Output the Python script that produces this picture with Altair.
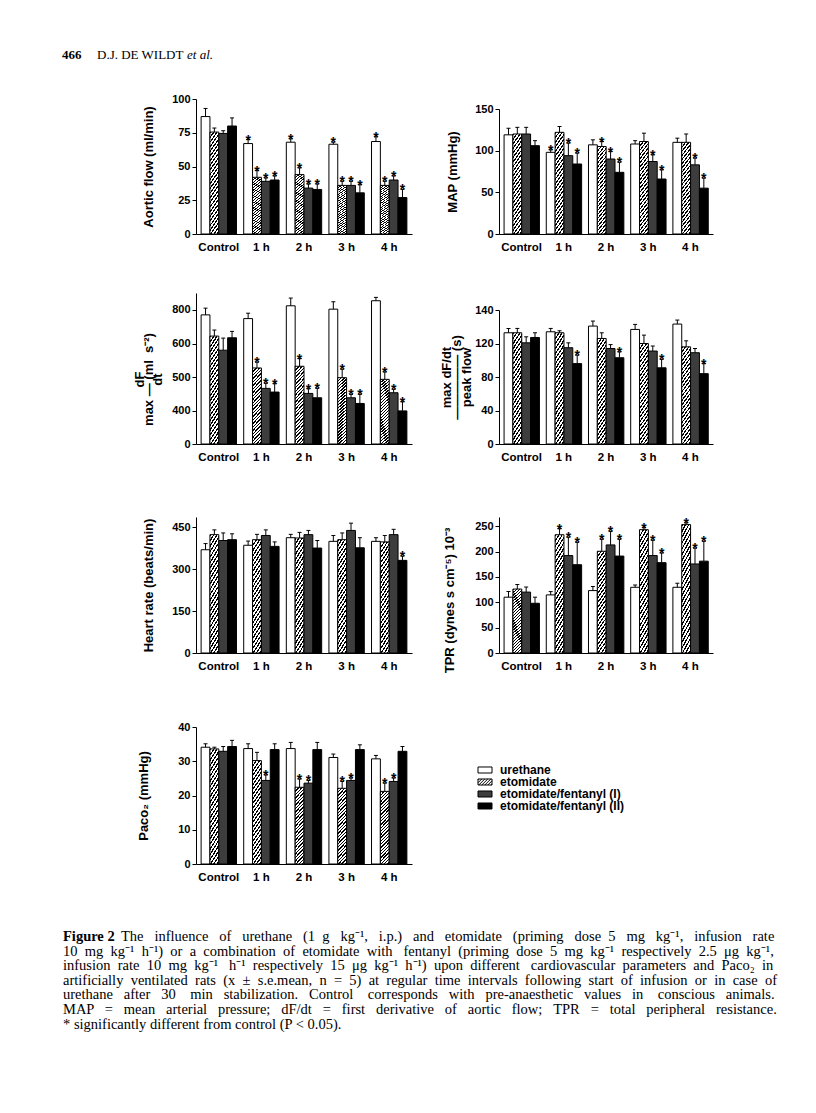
import altair as alt
import pandas as pd

# ---------------------------------------------------------------- data
times = ["Control", "1 h", "2 h", "3 h", "4 h"]
series = ["urethane", "etomidate", "etomidate/fentanyl (I)", "etomidate/fentanyl (II)"]

# Aortic flow (ml/min): means, tops of s.e.m. bars, significance flags
flow_ure = [87, 67, 68, 66.5, 68.5]
flow_eto = [75.5, 42, 44, 36, 36]
flow_f1 = [74.5, 39, 34, 36, 40]
flow_f2 = [80, 40, 33, 30.5, 27]
flow_ure_top = [93, 70, 70.5, 68, 72]
flow_eto_top = [78.5, 47, 49, 39, 39]
flow_f1_top = [76.5, 41.5, 37, 39, 43]
flow_f2_top = [86, 43, 37, 36.5, 33]
flow_sig = [[0, 1, 1, 1, 1], [0, 1, 1, 1, 1], [0, 1, 1, 1, 1], [0, 1, 1, 1, 1]]

# MAP (mmHg)
map_ure = [119, 98, 107, 108, 110]
map_eto = [120, 122, 105, 111, 110]
map_f1 = [120, 94, 90, 87, 83]
map_f2 = [106, 84, 74, 66, 55]
map_ure_top = [127, 101, 113, 112, 115]
map_eto_top = [128, 129, 111, 121, 120]
map_f1_top = [128, 109, 99, 95, 91]
map_f2_top = [112, 97, 86, 77, 67]
map_sig = [[0, 1, 0, 0, 0], [0, 0, 1, 0, 0], [0, 1, 1, 1, 1], [0, 1, 1, 1, 1]]

# max dF/dt (ml s-2)
dfdt_ure = [770, 748, 824, 804, 854]
dfdt_eto = [644, 527, 532, 498, 493]
dfdt_f1 = [580, 466, 451, 438, 453]
dfdt_f2 = [634, 455, 438, 421, 395]
dfdt_ure_top = [810, 780, 870, 848, 874]
dfdt_eto_top = [680, 544, 555, 523, 515]
dfdt_f1_top = [632, 481, 465, 448, 463]
dfdt_f2_top = [672, 480, 466, 448, 426]
dfdt_sig = [[0, 0, 0, 0, 0], [0, 1, 1, 1, 1], [0, 1, 1, 1, 1], [0, 1, 1, 1, 1]]

# max dF/dt / peak flow (s)
ratio_ure = [126.4, 127, 130.4, 128.4, 131.6]
ratio_eto = [126.4, 126.4, 123, 120, 116]
ratio_f1 = [120.4, 115, 114, 111, 109]
ratio_f2 = [123.6, 96, 103, 91, 84]
ratio_ure_top = [129, 129, 133.4, 131.4, 134]
ratio_eto_top = [129, 127.6, 126.4, 125, 121.6]
ratio_f1_top = [124, 120.4, 118.7, 117, 114]
ratio_f2_top = [126.4, 106, 110, 101, 96]
ratio_sig = [[0, 0, 0, 0, 0], [0, 0, 0, 0, 0], [0, 0, 0, 0, 0], [0, 1, 1, 1, 1]]

# Heart rate (beats/min)
hr_ure = [369, 385, 412, 399, 399]
hr_eto = [423, 405, 411, 405, 397]
hr_f1 = [402, 420, 423, 438, 423]
hr_f2 = [405, 381, 375, 376, 331]
hr_ure_top = [391, 400, 424, 420, 412]
hr_eto_top = [440, 424, 431, 429, 420]
hr_f1_top = [429, 440, 438, 464, 442]
hr_f2_top = [426, 397, 402, 412, 346]
hr_sig = [[0, 0, 0, 0, 0], [0, 0, 0, 0, 0], [0, 0, 0, 0, 0], [0, 0, 0, 0, 1]]

# TPR (dynes s cm-5) 10-3
tpr_ure = [110, 114.5, 123, 129.5, 129.5]
tpr_eto = [126, 233, 200.5, 243, 253]
tpr_f1 = [120, 192, 213, 192, 175.5]
tpr_f2 = [98, 174, 191, 178, 181]
tpr_ure_top = [121, 121, 131, 134, 137.5]
tpr_eto_top = [135, 245, 224, 247, 256.5]
tpr_f1_top = [130, 228, 239.5, 222, 206.5]
tpr_f2_top = [110, 218, 224, 197, 220]
tpr_sig = [[0, 0, 0, 0, 0], [0, 1, 1, 1, 1], [0, 1, 1, 1, 1], [0, 1, 1, 1, 1]]

# PaCO2 (mmHg)
pco2_ure = [34.1, 33.7, 33.7, 31.1, 30.7]
pco2_eto = [33.6, 30.2, 22.4, 22.1, 21.2]
pco2_f1 = [32.9, 24.4, 23.6, 24.4, 24.1]
pco2_f2 = [34.3, 33.4, 33.4, 33.4, 32.9]
pco2_ure_top = [35.1, 35.1, 35.5, 32.1, 31.7]
pco2_eto_top = [34.1, 32.6, 24.8, 24.1, 23.6]
pco2_f1_top = [34.3, 26, 24.4, 25.1, 25.1]
pco2_f2_top = [36.1, 35.1, 35.5, 34.8, 34.3]
pco2_sig = [[0, 0, 0, 0, 0], [0, 0, 1, 1, 1], [0, 1, 1, 1, 1], [0, 0, 0, 0, 0]]

header_parts = ["466", "D.J. DE WILDT", "et al."]
caption_bold = "Figure 2"
caption_lines = [
    "The influence of urethane (1 g kg\u207b\u00b9, i.p.) and etomidate (priming dose 5 mg kg\u207b\u00b9, infusion rate",
    "10 mg kg\u207b\u00b9 h\u207b\u00b9) or a combination of etomidate with fentanyl (priming dose 5 mg kg\u207b\u00b9 respectively 2.5 \u03bcg kg\u207b\u00b9,",
    "infusion rate 10 mg kg\u207b\u00b9 h\u207b\u00b9 respectively 15 \u03bcg kg\u207b\u00b9 h\u207b\u00b9) upon different cardiovascular parameters and Paco\u2082 in",
    "artificially ventilated rats (x \u00b1 s.e.mean, n = 5) at regular time intervals following start of infusion or in case of",
    "urethane after 30 min stabilization. Control corresponds with pre-anaesthetic values in conscious animals.",
    "MAP = mean arterial pressure; dF/dt = first derivative of aortic flow; TPR = total peripheral resistance.",
    "* significantly different from control (P < 0.05).",
]


def table(means, tops, sigs):
    rows = []
    for s, m, t, g in zip(series, means, tops, sigs):
        for tm, mv, tv, gv in zip(times, m, t, g):
            rows.append({"time": tm, "series": s, "mean": mv, "up": tv, "sig": gv})
    return pd.DataFrame(rows)


# ---------------------------------------------------------------- text justification (Times metrics)
_W = {" ": 250, "!": 333, "(": 333, ")": 333, "*": 500, "+": 564, ",": 250, "-": 333, ".": 250,
      "/": 278, ":": 278, ";": 278, "<": 564, "=": 564, ">": 564, "?": 444,
      "\u00b1": 564, "\u03bc": 500, "\u207b": 400, "\u00b9": 300, "\u00b2": 300, "\u2082": 300}
_W.update({d: 500 for d in "0123456789"})
_W.update(dict(zip("ABCDEFGHIJKLMNOPQRSTUVWXYZ",
                   [722, 667, 667, 722, 611, 556, 722, 722, 333, 389, 722, 611, 889, 722, 722, 556,
                    722, 667, 556, 611, 722, 722, 944, 722, 722, 611])))
_W.update(dict(zip("abcdefghijklmnopqrstuvwxyz",
                   [444, 500, 444, 500, 444, 333, 500, 500, 278, 278, 500, 278, 778, 500, 500, 500,
                    500, 333, 389, 278, 500, 500, 722, 500, 500, 444])))


def justify(line, target_px, size):
    natural = sum(_W.get(c, 500) for c in line) * size / 1000.0
    words = line.split(" ")
    gaps = len(words) - 1
    nb = 250 * size / 1000.0
    extra = max(0, int(round((target_px - natural) / nb)))
    out = words[0]
    acc = 0
    for i in range(gaps):
        want = int(round(extra * (i + 1) / gaps))
        k = want - acc
        acc = want
        out += " " + "\u00a0" * k + words[i + 1]
    return out


# ---------------------------------------------------------------- styles
def hatch_gradient(a=8.0, bar_px=8.8, period_px=3.2, duty=0.42):
    dt = (period_px / bar_px) / (1 + a * a)
    tmax = (1 + a) / (1 + a * a)
    stops = []
    k = 0
    while k * dt < tmax + dt:
        t0, t1, t2 = k * dt, k * dt + duty * dt, (k + 1) * dt
        c0, c1, c2 = (round(min(v, 1.0), 5) for v in (t0, t1, t2))
        stops += [{"offset": c0, "color": "black"}, {"offset": c1, "color": "black"},
                  {"offset": c1, "color": "white"}, {"offset": c2, "color": "white"}]
        k += 1
    return {"gradient": "linear", "x1": 0, "y1": 0, "x2": 1, "y2": a, "stops": stops}


HATCH = hatch_gradient()
FILLS = ["white", "white", "#3d3d3d", "black"]
NB = "\u00a0"

fill_enc = alt.condition(
    "datum.series === 'etomidate'",
    alt.value(HATCH),
    alt.Fill("series:N", scale=alt.Scale(domain=series, range=FILLS), legend=None),
)


def panel(df, title, ydomain, yrange, yvalues, H, W, title_x, title_y=None, line_h=None):
    x = alt.X("time:N", sort=times,
              scale=alt.Scale(paddingInner=0.17, paddingOuter=0.12),
              axis=alt.Axis(title=None, labelAngle=0, ticks=False, tickSize=0, labelPadding=7,
                            labelFontSize=11.5, labelFontWeight="bold", domainColor="black"))
    xo = alt.XOffset("series:N", sort=series, scale=alt.Scale(paddingInner=0, paddingOuter=0))
    ysc = alt.Scale(domain=ydomain, range=yrange, nice=False, zero=False)
    ak = dict(values=yvalues, title=title, titleX=title_x, titleBaseline="middle",
              titleFontSize=13, titleFontWeight="bold", labelFontSize=11, labelFontWeight="bold",
              tickSize=4, labelPadding=2, labelFlush=False, labelOverlap=False, grid=False)
    if title_y is not None:
        ak["titleY"] = title_y
    if line_h is not None:
        ak["titleLineHeight"] = line_h
    axis = alt.Axis(**ak)
    base = alt.Chart(df)
    bars = base.mark_bar(stroke="black", strokeWidth=1).encode(
        x=x, xOffset=xo, y=alt.Y("mean:Q", scale=ysc, axis=axis), fill=fill_enc)
    whisk = base.mark_rule(color="black", strokeWidth=1).encode(
        x=x, xOffset=xo, y=alt.Y("mean:Q", scale=ysc, axis=axis), y2="up:Q")
    cap = base.mark_tick(color="black", size=4, thickness=1, orient="horizontal", opacity=1).encode(
        x=x, xOffset=xo, y=alt.Y("up:Q", scale=ysc, axis=axis))
    stars = base.transform_filter("datum.sig == 1").mark_text(
        text="*", font="Liberation Sans", fontWeight="bold", fontSize=14,
        baseline="alphabetic", dy=5, color="black").encode(
        x=x, xOffset=xo, y=alt.Y("up:Q", scale=ysc, axis=axis))
    return alt.layer(bars, whisk, cap, stars).properties(width=W, height=H)


WL, WR = 216, 214
H0, H1, H2, H3, H4, H5 = 24, 135, 190, 189, 191, 150

p1 = panel(table([flow_ure, flow_eto, flow_f1, flow_f2],
                 [flow_ure_top, flow_eto_top, flow_f1_top, flow_f2_top], flow_sig),
           "Aortic flow (ml/min)", [0, 100], [H1, 0], [0, 25, 50, 75, 100], H1, WL, -48)
p2 = panel(table([map_ure, map_eto, map_f1, map_f2],
                 [map_ure_top, map_eto_top, map_f1_top, map_f2_top], map_sig),
           "MAP (mmHg)", [0, 150], [H1, 10], [0, 50, 100, 150], H1, WR, -47)
p3 = panel(table([dfdt_ure, dfdt_eto, dfdt_f1, dfdt_f2],
                 [dfdt_ure_top, dfdt_eto_top, dfdt_f1_top, dfdt_f2_top], dfdt_sig),
           ["dF" + NB * 6, "max \u2014 (ml" + NB + " s\u207b\u00b2)", "dt" + NB * 6],
           [0, 400, 500, 600, 900], [H2, H2 - 33.5, H2 - 67, H2 - 100.5, H2 - 151],
           [0, 400, 500, 600, 800], H2, WL, -57, title_y=125, line_h=9)
p4 = panel(table([ratio_ure, ratio_eto, ratio_f1, ratio_f2],
                 [ratio_ure_top, ratio_eto_top, ratio_f1_top, ratio_f2_top], ratio_sig),
           ["max dF/dt" + NB * 6, "\u2014" * 5 + " (s)", "peak flow" + NB * 6],
           [0, 120, 140], [H2, H2 - 100.5, H2 - 134], [0, 40, 80, 120, 140], H2, WR, -53, line_h=10)
p5 = panel(table([hr_ure, hr_eto, hr_f1, hr_f2],
                 [hr_ure_top, hr_eto_top, hr_f1_top, hr_f2_top], hr_sig),
           "Heart rate (beats/min)", [0, 486], [H3, 53], [0, 150, 300, 450], H3, WL, -48)
p6 = panel(table([tpr_ure, tpr_eto, tpr_f1, tpr_f2],
                 [tpr_ure_top, tpr_eto_top, tpr_f1_top, tpr_f2_top], tpr_sig),
           "TPR (dynes s cm\u207b\u2075) 10\u207b\u00b3", [0, 268], [H3, 53],
           [0, 50, 100, 150, 200, 250], H3, WR, -50, title_y=136)
p7 = panel(table([pco2_ure, pco2_eto, pco2_f1, pco2_f2],
                 [pco2_ure_top, pco2_eto_top, pco2_f1_top, pco2_f2_top], pco2_sig),
           "Paco\u2082 (mmHg)", [0, 40], [H4, 54], [0, 10, 20, 30, 40], H4, WL, -53)


# ---------------------------------------------------------------- legend
def legend_hatch_path():
    p = "M-1,-0.43H1V0.43H-1Z"
    b = -1.75
    while b < 1.0:
        s0 = max(0.0, (-1 - b) / 0.86)
        s1 = min(1.0, (1 - b) / 0.86)
        if s1 > s0:
            p += "M{:.3f},{:.3f}L{:.3f},{:.3f}".format(b + 0.86 * s0, 0.43 - 0.86 * s0,
                                                      b + 0.86 * s1, 0.43 - 0.86 * s1)
        b += 0.43
    return p


RECT = "M-1,-0.43H1V0.43H-1Z"
leg_df = pd.DataFrame({"series": series})
ly = alt.Y("series:N", sort=series,
           scale=alt.Scale(type="point", domain=series, range=[97, 133], padding=0), axis=None)
leg_sw = alt.Chart(leg_df).mark_point(filled=True, stroke="black", strokeWidth=1, size=196,
                                      opacity=1, fillOpacity=1, strokeOpacity=1).encode(
    x=alt.value(-14), y=ly,
    shape=alt.Shape("series:N", scale=alt.Scale(domain=series,
                    range=[RECT, legend_hatch_path(), RECT, RECT]), legend=None),
    fill=alt.Fill("series:N", scale=alt.Scale(domain=series, range=FILLS), legend=None))
leg_tx = alt.Chart(leg_df).mark_text(align="left", baseline="middle", font="Liberation Sans",
                                     fontWeight="bold", fontSize=12, color="black").encode(
    x=alt.value(1), y=ly, text="series:N")
legend = alt.layer(leg_sw, leg_tx).properties(width=WR, height=H4)

# ---------------------------------------------------------------- header & caption
hdr_style = dict(font="Liberation Serif", fontSize=13, baseline="middle", align="left", color="black")
hdr = alt.layer(
    alt.Chart(pd.DataFrame({"t": [header_parts[0]]})).mark_text(fontWeight="bold", **hdr_style).encode(
        x=alt.value(-134), y=alt.value(0), text="t:N"),
    alt.Chart(pd.DataFrame({"t": [header_parts[1]]})).mark_text(**hdr_style).encode(
        x=alt.value(-99), y=alt.value(0), text="t:N"),
    alt.Chart(pd.DataFrame({"t": [header_parts[2]]})).mark_text(fontStyle="italic", **hdr_style).encode(
        x=alt.value(-9), y=alt.value(0), text="t:N"),
).properties(width=WL, height=H0)

blank = alt.Chart(pd.DataFrame({"t": [""]})).mark_text(color="white").encode(
    x=alt.value(0), y=alt.value(0), text="t:N").properties(width=WR, height=H0)

CAP_SIZE = 14.5
CAP_W = 713
CAP_DX = 58
cap_text = [justify(caption_lines[0], CAP_W - CAP_DX, CAP_SIZE)] + \
           [justify(s, CAP_W, CAP_SIZE) for s in caption_lines[1:6]] + [caption_lines[6]]
cap_style = dict(font="Liberation Serif", fontSize=CAP_SIZE, baseline="middle", align="left", color="black")
cy_scale = alt.Scale(domain=[0, 6], range=[53, 53 + 6 * 14.6])
cap_df = pd.DataFrame({"line": list(range(len(cap_text))), "t": cap_text})
cap = alt.layer(
    alt.Chart(pd.DataFrame({"line": [0], "t": [caption_bold]})).mark_text(fontWeight="bold", **cap_style).encode(
        x=alt.value(-133), y=alt.Y("line:Q", scale=cy_scale, axis=None), text="t:N"),
    alt.Chart(cap_df).transform_filter("datum.line == 0").mark_text(dx=CAP_DX, **cap_style).encode(
        x=alt.value(-133), y=alt.Y("line:Q", scale=cy_scale, axis=None), text="t:N"),
    alt.Chart(cap_df).transform_filter("datum.line > 0").mark_text(**cap_style).encode(
        x=alt.value(-133), y=alt.Y("line:Q", scale=cy_scale, axis=None), text="t:N"),
).properties(width=WL, height=H5)

chart = alt.concat(hdr, blank, p1, p2, p3, p4, p5, p6, p7, legend, cap,
                   columns=2, spacing={"row": 20, "column": 87}, bounds="flush").properties(
    padding={"left": 54, "top": 41, "right": 5, "bottom": 5}
).configure(font="Liberation Sans").configure_view(stroke=None).configure_axis(
    domainColor="black", tickColor="black", labelColor="black", titleColor="black",
    labelFont="Liberation Sans", titleFont="Liberation Sans", grid=False,
    domainWidth=1, tickWidth=1)

chart.save("out.html", embed_options={"renderer": "svg", "actions": False})
